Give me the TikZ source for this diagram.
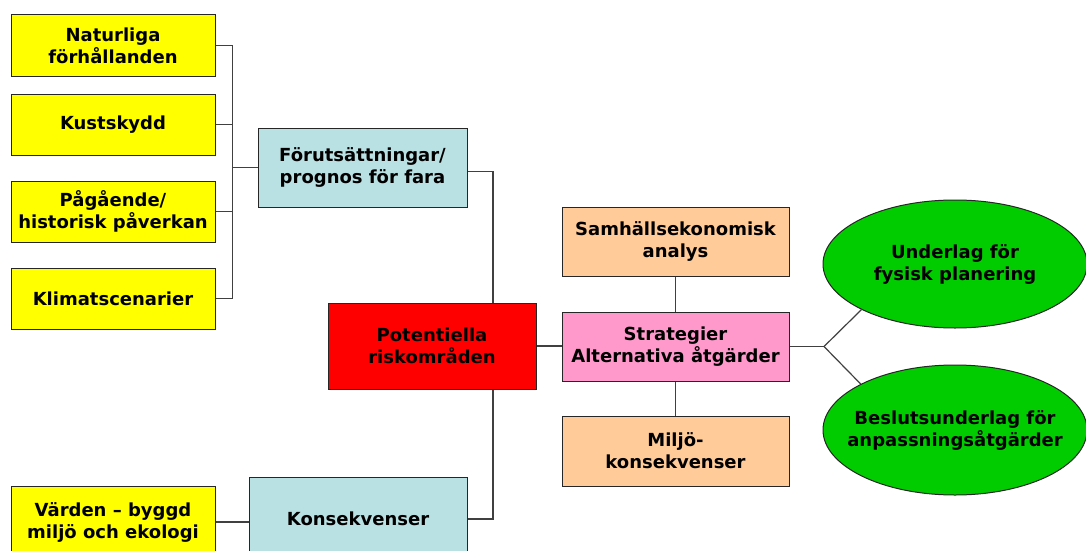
\documentclass[tikz,border=0pt]{standalone}
\usepackage{fontspec}
\setmainfont{DejaVu Sans}
\usetikzlibrary{shapes.geometric,calc}
\definecolor{yel}{HTML}{FFFF00}
\definecolor{lblue}{HTML}{B9E0E3}
\definecolor{rd}{HTML}{FF0000}
\definecolor{pnk}{HTML}{FF99CC}
\definecolor{peach}{HTML}{FFCC99}
\definecolor{grn}{HTML}{00CC00}
\tikzset{
  base/.style={draw=black!85, line width=1pt, align=center, inner sep=2pt,
    font=\fontsize{18}{22}\selectfont\bfseries},
  ybox/.style={base, rectangle, fill=yel, minimum width=204pt, minimum height=61pt},
  bbox/.style={base, rectangle, fill=lblue},
  obox/.style={base, rectangle, fill=peach, minimum width=227pt, minimum height=69pt},
  ell/.style={base, ellipse, fill=grn, inner sep=-40pt, minimum width=264pt, minimum height=128pt},
  conn/.style={draw=black!75, line width=1.2pt},
}
\begin{document}
\begin{tikzpicture}[x=1pt,y=-1pt]
\useasboundingbox (0,0) rectangle (1086,551);
\node[ybox] (nat) at (113,45.5) {Naturliga\\förhållanden};
\node[ybox] (kust) at (113,124.5) {Kustskydd};
\node[ybox] (pag) at (113,211.5) {Pågående/\\historisk påverkan};
\node[ybox] (klim) at (113,298.5) {Klimatscenarier};
\node[bbox, minimum width=209pt, minimum height=79pt] (fort) at (362.5,167.5) {Förutsättningar/\\prognos för fara};
\node[base, fill=rd, minimum width=208pt, minimum height=86pt] (red) at (432,346) {Potentiella\\riskområden};
\node[bbox, minimum width=218pt, minimum height=84pt] (kons) at (358,519) {Konsekvenser};
\node[ybox, minimum height=72pt] (vard) at (113,522) {Värden – byggd\\miljö och ekologi};
\node[obox] (samh) at (675.5,241.5) {Samhällsekonomisk\\analys};
\node[base, fill=pnk, minimum width=227pt, minimum height=69pt] (strat) at (675.5,346.5) {Strategier\\Alternativa åtgärder};
\node[obox, minimum height=70pt] (milj) at (675.5,451) {Miljö-\\konsekvenser};
\node[ell] (ell1) at (955,264) {Underlag för\\fysisk planering};
\node[ell, minimum height=130pt] (ell2) at (955,430) {Beslutsunderlag för\\anpassningsåtgärder};
\coordinate (fork) at (824,346.5);
% left bracket
\draw[conn] (nat.east) -- ++(17,0) |- (fort.west);
\draw[conn] (kust.east) -- ++(17,0) |- (fort.west);
\draw[conn] (pag.east) -- ++(17,0) |- (fort.west);
\draw[conn] (klim.east) -- ++(17,0) |- (fort.west);
% to red
\draw[conn] ($(fort.east)+(0,4)$) -| ($(red.north)+(61,0)$);
\draw[conn] ($(red.south)+(61,0)$) |- (kons.east);
\draw[conn] (vard.east) -- (vard.east -| kons.west);
\draw[conn] (red.east) -- (red.east -| strat.west);
\draw[conn] (samh.south) -- (strat.north);
\draw[conn] (strat.south) -- (milj.north);
\draw[conn] (strat.east) -- (fork);
\draw[conn] (fork) -- (ell1.206);
\draw[conn] (fork) -- (ell2.154);
\end{tikzpicture}
\end{document}
